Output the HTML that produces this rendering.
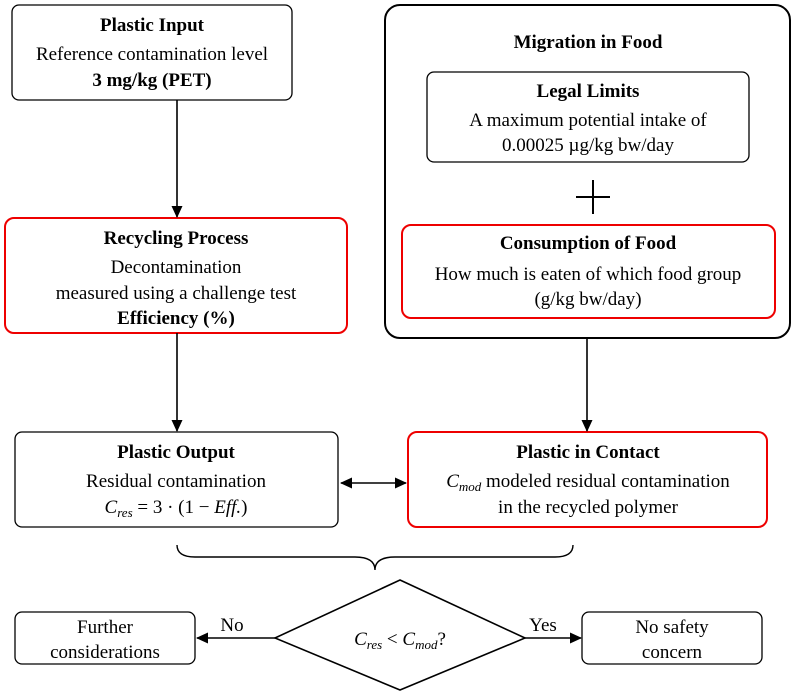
<!DOCTYPE html>
<html><head><meta charset="utf-8"><style>
html,body{margin:0;padding:0;background:#fff;}
svg{display:block;}
text{font-family:"Liberation Serif","DejaVu Serif",serif;font-size:19px;fill:#000;}
.b{font-weight:bold;}
</style></head><body>
<svg width="797" height="697" viewBox="0 0 797 697" xmlns="http://www.w3.org/2000/svg">
<defs>
<marker id="ah" markerWidth="12" markerHeight="12" refX="11" refY="6" orient="auto" markerUnits="userSpaceOnUse">
<path d="M0,0.5 L12,6 L0,11.5 Z" fill="#000"/></marker>
<marker id="ahs" markerWidth="12" markerHeight="12" refX="1" refY="6" orient="auto" markerUnits="userSpaceOnUse">
<path d="M12,0.5 L0,6 L12,11.5 Z" fill="#000"/></marker>
</defs>
<g fill="none" stroke-width="1.3">
<rect x="12" y="5" width="280" height="95" rx="7" stroke="#000"/>
<rect x="385" y="5" width="405" height="333" rx="15" stroke="#000" stroke-width="2"/>
<rect x="427" y="72" width="322" height="90" rx="7" stroke="#000"/>
<rect x="402" y="225" width="373" height="93" rx="9" stroke="#e00" stroke-width="2"/>
<rect x="5" y="218" width="342" height="115" rx="9" stroke="#e00" stroke-width="2"/>
<rect x="15" y="432" width="323" height="95" rx="7" stroke="#000"/>
<rect x="408" y="432" width="359" height="95" rx="9" stroke="#e00" stroke-width="2"/>
<rect x="15" y="612" width="180" height="52" rx="7" stroke="#000"/>
<rect x="582" y="612" width="180" height="52" rx="7" stroke="#000"/>
<path d="M400,580 L525,638 L400,690 L275,638 Z" stroke="#000" stroke-width="1.6"/>
</g>
<g stroke="#000" stroke-width="1.6" fill="none">
<line x1="177" y1="100" x2="177" y2="217" marker-end="url(#ah)"/>
<line x1="177" y1="333" x2="177" y2="431" marker-end="url(#ah)"/>
<line x1="587" y1="338" x2="587" y2="431" marker-end="url(#ah)"/>
<line x1="341" y1="483" x2="406" y2="483" marker-end="url(#ah)" marker-start="url(#ahs)"/>
<line x1="275" y1="638" x2="197" y2="638" marker-end="url(#ah)"/>
<line x1="525" y1="638" x2="581" y2="638" marker-end="url(#ah)"/>
<line x1="576" y1="197" x2="610" y2="197" stroke-width="2"/>
<line x1="593" y1="180" x2="593" y2="214" stroke-width="2"/>
<path d="M177,545 Q177,557 195,557 L355,557 Q375,557 375,570 Q375,557 395,557 L555,557 Q573,557 573,545" stroke-width="1.4"/>
</g>
<g text-anchor="middle">
<text x="152" y="31" class="b">Plastic Input</text>
<text x="152" y="60">Reference contamination level</text>
<text x="152" y="86" class="b">3 mg/kg (PET)</text>
<text x="588" y="48" class="b">Migration in Food</text>
<text x="588" y="97" class="b">Legal Limits</text>
<text x="588" y="126">A maximum potential intake of</text>
<text x="588" y="151">0.00025 µg/kg bw/day</text>
<text x="588" y="249" class="b">Consumption of Food</text>
<text x="588" y="280">How much is eaten of which food group</text>
<text x="588" y="305">(g/kg bw/day)</text>
<text x="176" y="244" class="b">Recycling Process</text>
<text x="176" y="273">Decontamination</text>
<text x="176" y="299">measured using a challenge test</text>
<text x="176" y="324" class="b">Efficiency (%)</text>
<text x="176" y="458" class="b">Plastic Output</text>
<text x="176" y="487">Residual contamination</text>
<text x="176" y="513"><tspan font-style="italic">C</tspan><tspan font-style="italic" font-size="13" dy="4">res</tspan><tspan dy="-4"> = 3 · (1 − </tspan><tspan font-style="italic">Eff.</tspan><tspan>)</tspan></text>
<text x="588" y="458" class="b">Plastic in Contact</text>
<text x="588" y="487"><tspan font-style="italic">C</tspan><tspan font-style="italic" font-size="13" dy="4">mod</tspan><tspan dy="-4"> modeled residual contamination</tspan></text>
<text x="588" y="513">in the recycled polymer</text>
<text x="105" y="633">Further</text>
<text x="105" y="658">considerations</text>
<text x="672" y="633">No safety</text>
<text x="672" y="658">concern</text>
<text x="232" y="631">No</text>
<text x="543" y="631">Yes</text>
<text x="400" y="645"><tspan font-style="italic">C</tspan><tspan font-style="italic" font-size="13" dy="4">res</tspan><tspan dy="-4"> &lt; </tspan><tspan font-style="italic">C</tspan><tspan font-style="italic" font-size="13" dy="4">mod</tspan><tspan dy="-4">?</tspan></text>
</g>
</svg>
</body></html>
